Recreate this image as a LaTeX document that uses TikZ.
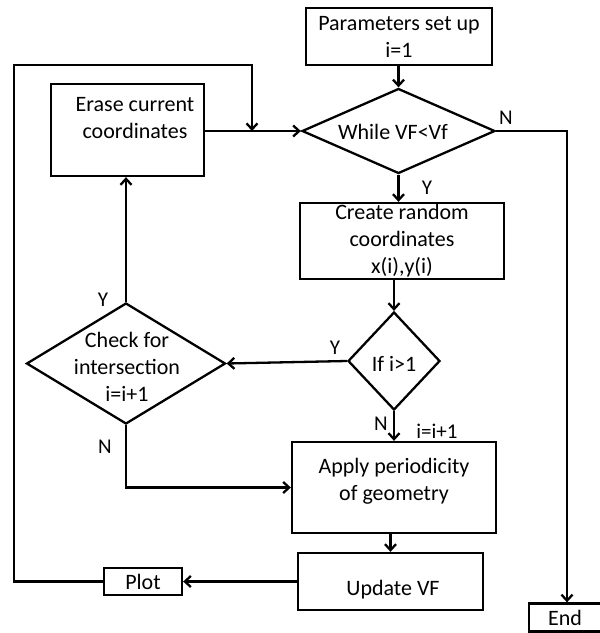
\documentclass[tikz,border=0pt]{standalone}
\usepackage{fontspec}
\setmainfont{Carlito}
\usetikzlibrary{shapes.geometric,arrows.meta}
\tikzset{
  ln/.style={line width=2.3pt, line join=miter},
  arr/.style={ln, -{Straight Barb[length=6pt,width=11pt,line width=2.3pt]}},
  box/.style={draw, line width=2.3pt, rectangle, inner sep=0pt, anchor=center, align=center, font=\fontsize{22}{27}\selectfont},
  dia/.style={draw, line width=2.3pt, diamond, inner sep=0pt, anchor=center},
  txt/.style={inner sep=0pt, align=center, font=\fontsize{22}{27}\selectfont},
  lbl/.style={inner sep=0pt, font=\fontsize{21}{25}\selectfont}
}
\begin{document}
\begin{tikzpicture}[x=1pt,y=-1pt]
\useasboundingbox (0,0) rectangle (600,633);
% boxes
\node[box, minimum width=186pt, minimum height=57pt] (params) at (399,36.5) {Parameters set up\\i=1};
\node[box, minimum width=153pt, minimum height=92pt] (erase) at (127.5,130) {};
\node[txt] (eraset) at (135,118) {Erase current\\coordinates};
\node[dia, minimum width=193pt, minimum height=85pt] (whl) at (398.5,131) {};
\node[txt] (whlt) at (393,132) {While VF<Vf};
\node[box, minimum width=204pt, minimum height=76pt] (create) at (402,241) {Create random\\coordinates\\x(i),y(i)};
\node[dia, minimum width=92pt, minimum height=98pt] (ifd) at (394,361) {};
\node[txt] (ifdt) at (394,364) {If i>1};
\node[dia, minimum width=199pt, minimum height=121pt] (chk) at (126,363.5) {};
\node[txt] (chkt) at (127,367) {Check for\\intersection\\i=i+1};
\node[box, minimum width=204pt, minimum height=91pt] (apply) at (394,487.5) {};
\node[txt] (applyt) at (394,481) {Apply periodicity\\of geometry};
\node[box, minimum width=185pt, minimum height=57pt] (update) at (390.5,581.5) {};
\node[txt] (updatet) at (393,590) {Update VF};
\node[box, minimum width=78pt, minimum height=27pt] (plot) at (143,581.5) {Plot};
\node[box, minimum width=72pt, minimum height=28pt] (endb) at (565,617.5) {End};
% coordinates
\coordinate (lpA) at (14,65);
\coordinate (lpB) at (252,65);
\coordinate (rl) at (567,131);
% connectors
\draw[arr] (params.south -| whl.north) -- (whl.north);
\draw[arr] (erase.east |- whl.west) -- (whl.west);
\draw[arr] (plot.west) -| (lpA) -- (lpB) -- (lpB |- whl.west);
\draw[arr] (whl.east) -- (rl) -- (rl |- endb.north);
\draw[arr] (whl.south) -- (whl.south |- create.north);
\draw[arr] (create.south -| ifd.north) -- (ifd.north);
\draw[arr] (ifd.west) -- (chk.east);
\draw[arr] (chk.north) -- (chk.north |- erase.south);
\draw[arr] (chk.south) |- (apply.west);
\draw[arr] (ifd.south) -- (apply.north);
\draw[arr] (apply.south -| update.north) -- (update.north);
\draw[arr] (update.west) -- (plot.east);
% labels
\node[lbl] (lN1) at (506,118) {N};
\node[lbl] (lY1) at (427,188) {Y};
\node[lbl] (lY2) at (335,348) {Y};
\node[lbl] (lY3) at (103,300) {Y};
\node[lbl] (lN2) at (105,447) {N};
\node[lbl] (lN3) at (381,424) {N};
\node[lbl] (linc) at (437,431) {i=i+1};
\end{tikzpicture}
\end{document}
